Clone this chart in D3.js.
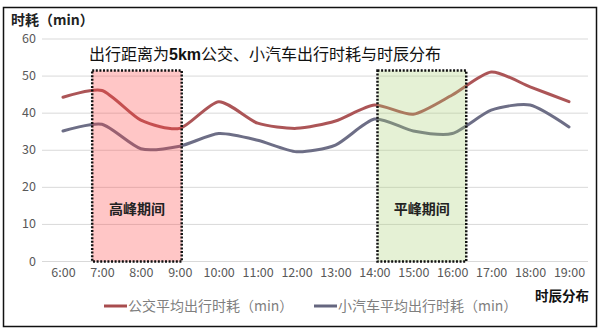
<!DOCTYPE html>
<html><head><meta charset="utf-8">
<script src="https://cdn.jsdelivr.net/npm/d3@7"></script>
<style>
body{margin:0;background:#fff;}
svg{display:block;font-family:"Noto Sans CJK SC","Noto Sans",sans-serif;}
</style></head>
<body><svg id="c" width="606" height="334"></svg>
<script>
const hours = [6,7,8,9,10,11,12,13,14,15,16,17,18,19];
const tickLabels = ["6:00","7:00","8:00","9:00","10:00","11:00","12:00","13:00","14:00","15:00","16:00","17:00","18:00","19:00"];
const busValues = [44.3,46.1,38.1,35.9,43.1,37.3,35.9,37.9,42.2,39.7,44.9,51.1,47.1,43.1];
const carValues = [35.2,37.0,30.4,31.1,34.5,32.7,29.6,31.4,38.4,35.2,34.5,40.8,42.2,36.3];
const yTicks = [0,10,20,30,40,50,60];
const periodNames = ["高峰期间","平峰期间"];
const periodStart = [6.75,14.08];
const periodEnd = [9.05,16.36];
const periodFill = ["#ff4141","#a8d073"];
const seriesNames = ["公交平均出行时耗（min）","小汽车平均出行时耗（min）"];
const seriesColors = ["#a84c4e","#65667f"];

const svg = d3.select("#c");
const x = d3.scaleLinear().domain([6,19]).range([63,569]);
const y = d3.scaleLinear().domain([0,60]).range([261.5,39]);

// frame
svg.append("rect").attr("x",3.5).attr("y",7.5).attr("width",593).attr("height",319)
  .attr("fill","#fff").attr("stroke","#111").attr("stroke-width",1.5);

// gridlines
svg.append("g").selectAll("line").data(yTicks).join("line")
  .attr("x1",42).attr("x2",588).attr("y1",d=>y(d)).attr("y2",d=>y(d))
  .attr("stroke","#d9d9d9").attr("stroke-width",1);

// y axis labels
svg.append("g").selectAll("text").data(yTicks).join("text")
  .attr("x",36).attr("y",d=>y(d)+4).attr("text-anchor","end")
  .attr("font-size",12.5).attr("fill","#595959").text(d=>d);

// x labels
const xa = d3.axisBottom(x).tickValues(hours).tickFormat((d,i)=>tickLabels[i]).tickSize(0).tickPadding(0);
const gx = svg.append("g").attr("transform","translate(0,268)").call(xa);
gx.select(".domain").remove();
gx.selectAll("text").attr("font-size",12.5).attr("fill","#595959")
  .attr("font-family","'Noto Sans CJK SC','Noto Sans',sans-serif").attr("dy","0.71em");

// lines
const line = d3.line().x((d,i)=>x(hours[i])).y(d=>y(d)).curve(d3.curveCardinal.tension(0.3));
[busValues,carValues].forEach((vals,i)=>{
  svg.append("path").attr("d",line(vals)).attr("fill","none")
    .attr("stroke",seriesColors[i]).attr("stroke-width",3).attr("stroke-linecap","round").attr("opacity",0.95);
});

// periods (semi-transparent, over lines)
const pg = svg.append("g");
periodNames.forEach((n,i)=>{
  pg.append("rect").attr("x",x(periodStart[i])).attr("y",y(51.5))
    .attr("width",x(periodEnd[i])-x(periodStart[i])).attr("height",y(0)-y(51.5))
    .attr("fill",periodFill[i]).attr("fill-opacity",0.3)
    .attr("stroke","#111").attr("stroke-width",2.5).attr("stroke-dasharray","2,1.6");
  pg.append("text").attr("x",(x(periodStart[i])+x(periodEnd[i]))/2).attr("y",y(12.7))
    .attr("text-anchor","middle").attr("font-size",14).attr("font-weight","bold")
    .attr("fill","#222").text(n);
});

// title
const t = svg.append("text").attr("x",89).attr("y",60).attr("font-size",16).attr("fill","#111");
t.append("tspan").text("出行距离为");
t.append("tspan").attr("font-weight","bold").attr("font-family","Arial, 'Liberation Sans', sans-serif").text("5km");
t.append("tspan").text("公交、小汽车出行时耗与时辰分布");

// y title
svg.append("text").attr("x",11).attr("y",25).attr("font-size",14).attr("font-weight","bold")
  .attr("fill","#222").text("时耗（min）");

// x title
svg.append("text").attr("x",589).attr("y",301).attr("text-anchor","end").attr("font-size",13.5)
  .attr("font-weight","bold").attr("fill","#111").text("时辰分布");

// legend
const lx = [104,314];
seriesNames.forEach((n,i)=>{
  svg.append("line").attr("x1",lx[i]).attr("x2",lx[i]+23).attr("y1",306).attr("y2",306)
    .attr("stroke",seriesColors[i]).attr("stroke-width",3);
  svg.append("text").attr("x",lx[i]+24).attr("y",311).attr("font-size",14)
    .attr("fill","#7f7f7f").text(n);
});
</script></body></html>
